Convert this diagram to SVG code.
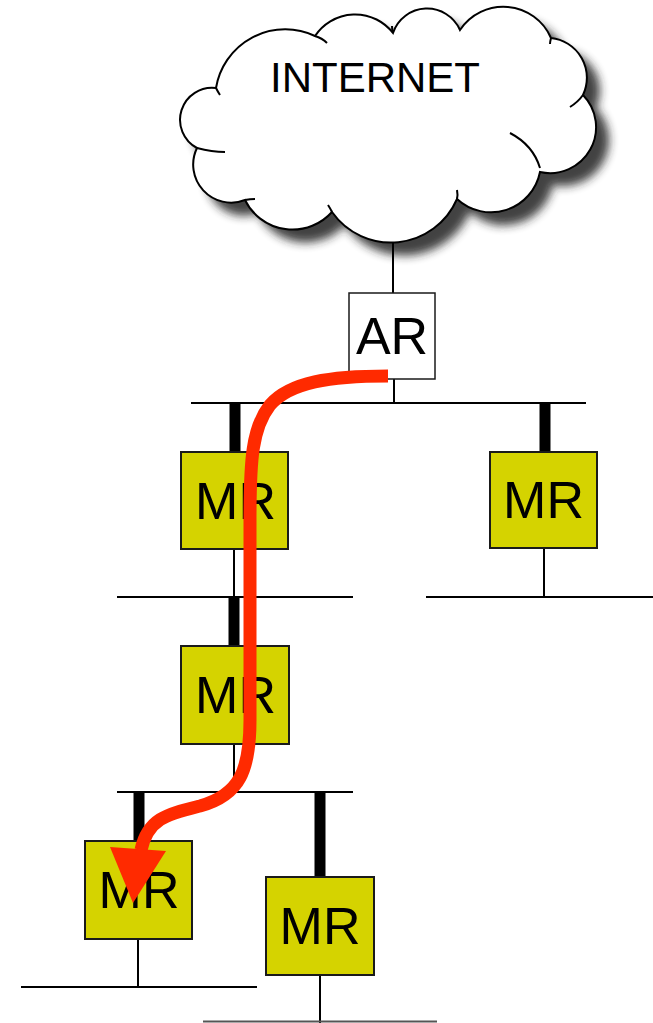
<svg xmlns="http://www.w3.org/2000/svg" width="653" height="1023" viewBox="0 0 653 1023">
<style>
.thin{stroke:#000;stroke-width:2;fill:none}
.bar{stroke:#000;stroke-width:11;fill:none}
.mr{fill:#d5d300;stroke:#1a1a1a;stroke-width:2}
.ar{fill:#fff;stroke:#1a1a1a;stroke-width:1.5}
.lbl{font-family:"Liberation Sans",Arial,sans-serif;fill:#000;text-anchor:middle}
.cloud{fill:#fff;stroke:#000;stroke-width:2}
.tail{fill:none;stroke:#000;stroke-width:2}
.route{fill:none;stroke:#ff2a00;stroke-width:13;stroke-linecap:butt}
</style>
<defs>
<filter id="sh" x="-20%" y="-20%" width="140%" height="140%">
<feGaussianBlur stdDeviation="5"/>
</filter>
<path id="cloudPath" d="M216,88 A70,70 0 0 1 315,36 A48,48 0 0 1 393,33 A36,36 0 0 1 460,30 A52,52 0 0 1 551,38 A40,40 0 0 1 583,95 A46,46 0 0 1 540,172 A50,50 0 0 1 457,199 A72,72 0 0 1 332,212 A53,53 0 0 1 245,200 A38,38 0 0 1 197,148 A32,32 0 0 1 216,88 Z"/>
</defs>
<g id="internet">
<use href="#cloudPath" transform="translate(13,13)" fill="#222" opacity="0.85" filter="url(#sh)"/>
<use href="#cloudPath" class="cloud"/>
<path class="tail" d="M315,36 Q322,38 327,43"/>
<path class="tail" d="M393,33 Q392,30 392,26"/>
<path class="tail" d="M551,38 Q550,42 550,44"/>
<path class="tail" d="M583,95 Q578,102 570,107"/>
<path class="tail" d="M510,133 Q533,145 540,168"/>
<path class="tail" d="M457,199 Q458,195 457,190"/>
<path class="tail" d="M332,212 Q330,208 328,205"/>
<path class="tail" d="M245,200 Q250,199 255,199"/>
<path class="tail" d="M197,148 Q212,152 225,152"/>
<path class="tail" d="M216,88 Q218,92 220,95"/>
<text class="lbl" x="375" y="92" font-size="42">INTERNET</text>
</g>
<g id="links">
<line class="thin" x1="393" y1="243" x2="393" y2="293"/>
<line class="thin" x1="394" y1="379" x2="394" y2="403"/>
<line class="thin" x1="191" y1="403" x2="586" y2="403"/>
<line class="bar" x1="235" y1="403" x2="235" y2="452"/>
<line class="bar" x1="545" y1="403" x2="545" y2="452"/>
<line class="thin" x1="234" y1="549" x2="234" y2="597"/>
<line class="thin" x1="544" y1="548" x2="544" y2="597"/>
<line class="thin" x1="117" y1="597" x2="353" y2="597"/>
<line class="thin" x1="426" y1="597" x2="653" y2="597"/>
<line class="bar" x1="234" y1="597" x2="234" y2="646"/>
<line class="thin" x1="234" y1="744" x2="234" y2="792"/>
<line class="thin" x1="117" y1="792" x2="353" y2="792"/>
<line class="bar" x1="139" y1="792" x2="139" y2="841"/>
<line class="bar" x1="320" y1="792" x2="320" y2="877"/>
<line class="thin" x1="138" y1="939" x2="138" y2="987"/>
<line class="thin" x1="21" y1="987" x2="257" y2="987"/>
<line class="thin" x1="320" y1="975" x2="320" y2="1023"/>
<line x1="203" y1="1021.5" x2="437" y2="1021.5" stroke="#555" stroke-width="2"/>
</g>
<g id="ar">
<rect class="ar" x="349" y="293" width="86" height="86"/>
<text class="lbl" x="392" y="354" font-size="52">AR</text>
</g>
<g id="mr1">
<rect class="mr" x="181" y="452" width="107" height="97"/>
<text class="lbl" x="235.5" y="519" font-size="52">MR</text>
</g>
<g id="mr2">
<rect class="mr" x="490" y="452" width="107" height="96"/>
<text class="lbl" x="543.5" y="518" font-size="52">MR</text>
</g>
<g id="mr3">
<rect class="mr" x="181" y="646" width="108" height="98"/>
<text class="lbl" x="235.5" y="713" font-size="52">MR</text>
</g>
<g id="mr4">
<rect class="mr" x="85" y="841" width="107" height="98"/>
<text class="lbl" x="139" y="908" font-size="52">MR</text>
</g>
<g id="mr5">
<rect class="mr" x="266" y="877" width="108" height="98"/>
<text class="lbl" x="320" y="944" font-size="52">MR</text>
</g>
<g id="connectors">
<path class="route" d="M388,376 C330,376 290,382 270,405 C252,428 250,460 250,520 L250,720 C250,770 240,795 200,806 C168,814 148,818 141,850"/>
<polygon points="110,847 166,851 133,903" fill="#ff2a00"/>
</g>
</svg>
